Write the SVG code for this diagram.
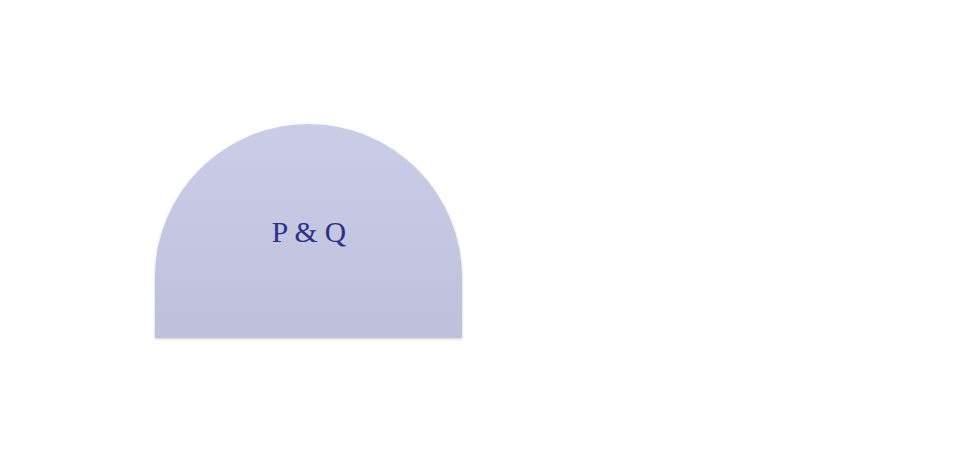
<svg xmlns="http://www.w3.org/2000/svg" width="960" height="464" viewBox="0 0 960 464">
<defs>
<linearGradient id="g" x1="0" y1="0" x2="0" y2="1">
<stop offset="0" stop-color="#cbcce8"/>
<stop offset="1" stop-color="#bfc0da"/>
</linearGradient>
<filter id="sh" x="-10%" y="-10%" width="120%" height="120%">
<feGaussianBlur in="SourceAlpha" stdDeviation="1.5"/>
<feOffset dx="0" dy="1" result="b"/>
<feComponentTransfer><feFuncA type="linear" slope="0.2"/></feComponentTransfer>
<feMerge><feMergeNode/><feMergeNode in="SourceGraphic"/></feMerge>
</filter>
<style>.lbl{font-family:"Liberation Serif","DejaVu Serif",serif;font-size:29.5px;fill:#2a3186;text-anchor:middle}</style>
</defs>
<rect width="960" height="464" fill="#ffffff"/>
<g id="node-pq">
<path d="M155,338 L155,277.5 A153.5,153.5 0 0 1 462,277.5 L462,338 Z" fill="url(#g)" filter="url(#sh)"/>
<text class="lbl" x="309" y="242">P &amp; Q</text>
</g>
<g id="connectors"/>
</svg>
